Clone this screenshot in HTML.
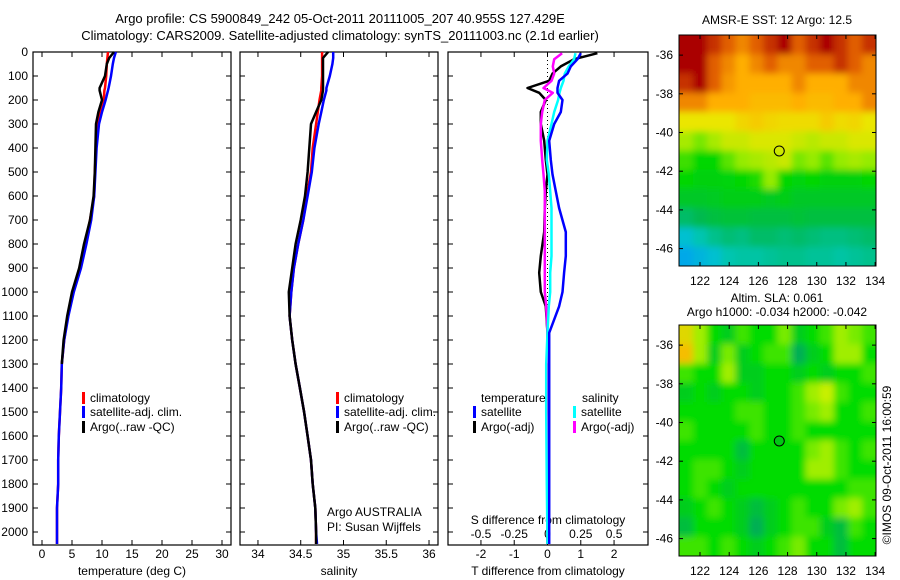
<!DOCTYPE html>
<html><head><meta charset="utf-8">
<style>
html,body{margin:0;padding:0;background:#fff;}
svg{display:block;font-family:"Liberation Sans",sans-serif;}
text{fill:#000;}
</style></head>
<body>
<svg id="fig" width="900" height="580" viewBox="0 0 900 580">
<defs>
<filter id="blur" x="-5%" y="-5%" width="110%" height="110%"><feGaussianBlur stdDeviation="3.5"/></filter>
<clipPath id="clip1"><rect x="679" y="35" width="197" height="231"/></clipPath>
<clipPath id="clip2"><rect x="679" y="325" width="197" height="231"/></clipPath>
</defs>
<text x="340" y="23" font-size="13" text-anchor="middle">Argo profile: CS 5900849_242 05-Oct-2011 20111005_207 40.955S 127.429E</text>
<text x="340" y="40" font-size="13" text-anchor="middle">Climatology: CARS2009. Satellite-adjusted climatology: synTS_20111003.nc (2.1d earlier)</text>
<text x="777" y="24" font-size="12" text-anchor="middle">AMSR-E SST: 12 Argo: 12.5</text>
<text x="777" y="302" font-size="12" text-anchor="middle">Altim. SLA: 0.061</text>
<text x="777" y="316" font-size="12" text-anchor="middle">Argo h1000: -0.034 h2000: -0.042</text>
<text x="0" y="0" font-size="12" text-anchor="middle" transform="translate(891,465) rotate(-90)">©IMOS 09-Oct-2011 16:00:59</text>
<g id="g"></g>
</svg>
<script>
// ---- profile data ----
const depthsP = [0,25,50,100,150,160,200,250,300,400,500,600,700,800,900,1000,1100,1200,1300,1400,1500,1600,1700,1800,1900,2000,2050];
const tempClim = [11,10.9,10.8,10.7,10.5,10.4,10.3,9.8,9.2,9.0,8.8,8.7,8.0,7.2,6.3,5.2,4.3,3.7,3.3,3.2,3.0,2.8,2.7,2.7,2.5,2.5,2.5];
const tempSat  = [12.3,12,11.8,11.5,11.1,11,10.6,10,9.5,9.1,8.9,8.7,8.2,7.4,6.5,5.3,4.4,3.7,3.3,3.2,3.0,2.8,2.7,2.7,2.5,2.5,2.5];
const tempArgo = [12,11.2,10.8,10.5,9.6,9.6,10,9.4,9.0,8.9,8.8,8.6,8.0,7.0,6.2,5.0,4.2,3.6,3.3,3.2,3.0,2.8,2.7,2.7,2.5,2.5,2.5];
const salClim = [34.75,34.75,34.75,34.75,34.74,34.74,34.72,34.7,34.68,34.64,34.62,34.57,34.53,34.47,34.42,34.39,34.37,34.4,34.44,34.49,34.54,34.58,34.62,34.64,34.67,34.68,34.68];
const salSat  = [34.88,34.88,34.87,34.84,34.8,34.8,34.77,34.74,34.71,34.66,34.63,34.58,34.53,34.47,34.42,34.39,34.37,34.4,34.44,34.49,34.54,34.58,34.62,34.64,34.67,34.68,34.69];
const salArgo = [34.82,34.76,34.76,34.76,34.76,34.76,34.74,34.68,34.62,34.6,34.58,34.55,34.5,34.44,34.4,34.36,34.37,34.4,34.44,34.49,34.54,34.58,34.62,34.64,34.67,34.68,34.68];
const depthsD = [5,30,60,90,120,150,170,200,250,300,370,450,510,580,650,750,850,920,1000,1060,1170,1300,1500,1800,2050];
const dTargo = [1.5,0.8,0.4,0.15,0.05,-0.6,-0.25,-0.05,-0.2,-0.2,-0.1,-0.05,0,-0.05,-0.08,-0.1,-0.2,-0.25,-0.2,-0.05,0,0,0,0,0];
const dTsat  = [1.0,0.9,0.7,0.6,0.35,0.3,0.3,0.45,0.4,0.2,0.05,0.1,0.15,0.25,0.35,0.55,0.55,0.5,0.45,0.35,0.05,0.05,0.05,0.05,0.05];
const dSargo = [0.11,0.05,0.04,0.05,0.03,-0.03,0.04,-0.02,-0.04,-0.05,-0.05,-0.04,-0.03,-0.02,-0.02,-0.02,-0.02,-0.02,-0.02,-0.01,0,0.01,0.01,0.01,0.01];
const dSsat  = [0.21,0.2,0.16,0.13,0.12,0.1,0.09,0.08,0.05,0.03,0,-0.005,0.01,0.02,0.03,0.03,0.03,0.02,0.02,0.01,0,-0.01,-0.01,-0.005,0];
const depthTicks = [0,100,200,300,400,500,600,700,800,900,1000,1100,1200,1300,1400,1500,1600,1700,1800,1900,2000];
const tempTicks = [0,5,10,15,20,25,30];
const salTicks = [34,34.5,35,35.5,36];
const tdiffTicks = [-2,-1,0,1,2];
const sdiffTicks = [-0.5,-0.25,0,0.25,0.5];
// ---- map data ----
const latTicks = [-36,-38,-40,-42,-44,-46];
const lonTicks = [122,124,126,128,130,132,134];
const argoLon = 127.43, argoLat = -40.955;
const sstGrid = [
[16,16,15.5,15,14.5,15,15.5,16,15,15.5,16,15.5,15,15.5],
[16,16,15,14.5,14,14.5,15,14.5,14.5,15,15,15.5,15,14.5],
[15.5,16,15,14.3,14,14,14,14,14.5,14,14,14,14.5,14.5],
[14.5,14.5,14,14,14,13.8,13.8,13.8,14,13.8,13.8,14,14,14.5],
[13,13,13,13,13.3,13.5,13.3,13.2,13.2,13.2,13.5,13.2,13.3,13],
[12.6,12.4,12.6,12.8,12.8,12.9,12.9,12.9,12.8,12.7,12.8,12.8,12.9,12.9],
[12.2,12,12,12.3,12.5,12.6,12.7,12.8,12.4,12.5,12.3,12.5,12.6,12.5],
[12,11.8,11.8,11.9,12,12.1,12.5,12,11.9,12,11.8,11.8,11.8,12],
[11.5,11.5,11.6,11.7,11.7,11.7,11.6,11.7,11.5,11.5,11.5,11.5,11.5,11.5],
[10.8,11,11.2,11.3,11.3,11.2,11.2,11.2,11.3,11.2,11.2,11.2,11.2,11.2],
[9.8,10.2,10.5,10.7,10.6,10.8,10.8,10.7,10.8,10.7,10.6,10.6,10.7,10.8],
[9.2,9.5,9.8,10.2,10.3,10.3,10.4,10.5,10.5,10.4,10.4,10.3,10.4,10.5]];
const slaGrid = [
[0.25,0.15,0,-0.05,0.05,0,0,0.1,-0.05,0,0.05,0.15,0.1,0.05],
[0.3,0.15,-0.05,0.1,-0.05,0,0.05,0.05,-0.15,-0.05,0,0.15,0.15,0],
[0.05,0,0,0.15,-0.05,-0.05,0,0,-0.05,0,-0.05,0,0,0.05],
[-0.05,0,-0.05,0,0,-0.05,0,0,0.05,0.15,0.2,0.05,0,0],
[0,0,0,0,0.05,0.05,0,0,0.05,0.1,0.15,0,0,0.05],
[0.05,0,0,0,0,0.05,0,0,0.05,0,0,0,0,0],
[0,0,0,0,-0.1,0,0,0,0,0.1,0.15,0.05,0,0.05],
[0,0.05,0.05,0,-0.05,0,0,0,0,0.15,0.15,0.05,0,0],
[0,0.05,0,-0.05,0,0,0,0,0,0,0,0,0.05,0.05],
[-0.05,0,0.05,0,-0.05,-0.1,-0.05,0,0.05,0,0,0.1,0.15,0.05],
[-0.1,0,0,0,-0.05,-0.15,-0.05,0,0.05,0.05,-0.05,-0.1,0.05,0],
[0.05,0.05,0,0.05,0,-0.05,0,0.05,0.1,0,0,-0.1,0,0]];

const NS="http://www.w3.org/2000/svg";
const G=document.getElementById('g');
function mk(tag,attrs,parent){const e=document.createElementNS(NS,tag);for(const k in attrs)e.setAttribute(k,attrs[k]);(parent||G).appendChild(e);return e;}
function txt(x,y,s,anchor,size,parent){const t=mk('text',{x:x,y:y,'font-size':size||12,'text-anchor':anchor||'middle'},parent);t.textContent=s;return t;}

const PT=52, PB=545;
const yD = d => PT + d*0.24;

function panel(name,x0,x1,xmin,xmax){
  const g=mk('g',{});
  
  
  const fx=v=>x0+(v-xmin)/(xmax-xmin)*(x1-x0);
  return {g,fx,x0,x1};
}
function frame(p){
  const r=mk('rect',{x:p.x0,y:PT,width:p.x1-p.x0,height:PB-PT,fill:'none',stroke:'#000','stroke-width':1.2},p.g);
  
  
  depthTicks.forEach(d=>{
    mk('line',{x1:p.x0,x2:p.x0+5,y1:yD(d),y2:yD(d),stroke:'#000'},p.g);
    mk('line',{x1:p.x1,x2:p.x1-5,y1:yD(d),y2:yD(d),stroke:'#000'},p.g);
  });
}
function xticks(p,ticks,label,lx){
  ticks.forEach(v=>{
    const x=p.fx(v);
    mk('line',{x1:x,x2:x,y1:PB,y2:PB-5,stroke:'#000'},p.g);
    mk('line',{x1:x,x2:x,y1:PT,y2:PT+5,stroke:'#000'},p.g);
    const t=txt(x,558,String(v),'middle',12,p.g);
    
    
  });
  const t=txt(lx,575,label,'middle',12,p.g);
  
  
}
function line(p,xs,ds,fxv,color,name){
  const pts=xs.map((v,i)=>fxv(v).toFixed(1)+','+yD(ds[i]).toFixed(1)).join(' ');
  const l=mk('polyline',{points:pts,fill:'none',stroke:color,'stroke-width':2.5,'stroke-linejoin':'round'},p.g);
  
  
}
function legend(p,x,y,color,label,name){
  mk('rect',{x:x,y:y-10,width:3,height:12,fill:color},p.g);
  const t=txt(x+8,y,label,'start',12,p.g);
  
  
}

depthTicks.forEach(d=>{
  const t=txt(28,yD(d)+4,String(d),'end',12);
  
  
});

// Panel 1 temperature
const p1=panel('temperature-panel',33,231,-1.5,31.5);
frame(p1);
xticks(p1,tempTicks,'temperature (deg C)',132);
line(p1,tempClim,depthsP,p1.fx,'#ff0000','temp-climatology-line');
line(p1,tempSat,depthsP,p1.fx,'#0000ff','temp-satellite-line');
line(p1,tempArgo.slice(0,19),depthsP.slice(0,19),p1.fx,'#000000','temp-argo-line');
legend(p1,82,402,'#ff0000','climatology','legend-climatology');
legend(p1,82,416,'#0000ff','satellite-adj. clim.','legend-satellite');
legend(p1,82,431,'#000000','Argo(..raw -QC)','legend-argo');

// Panel 2 salinity
const p2=panel('salinity-panel',240,438,33.79,36.105);
frame(p2);
xticks(p2,salTicks,'salinity',339);
line(p2,salClim,depthsP,p2.fx,'#ff0000','sal-climatology-line');
line(p2,salSat,depthsP,p2.fx,'#0000ff','sal-satellite-line');
line(p2,salArgo,depthsP,p2.fx,'#000000','sal-argo-line');
legend(p2,336,402,'#ff0000','climatology','legend-climatology');
legend(p2,336,416,'#0000ff','satellite-adj. clim.','legend-satellite');
legend(p2,336,431,'#000000','Argo(..raw -QC)','legend-argo');
let t1=txt(327,516,'Argo AUSTRALIA','start',12,p2.g);


let t2=txt(327,531,'PI: Susan Wijffels','start',12,p2.g);



// Panel 3 differences
const p3=panel('difference-panel',448,648,-2.99,3.02);
frame(p3);
xticks(p3,tdiffTicks,'T difference from climatology',548);
const fS=v=>p3.fx(v*4);
const z=mk('line',{x1:p3.fx(0),x2:p3.fx(0),y1:PT,y2:PB,stroke:'#000','stroke-dasharray':'1,3'},p3.g);


sdiffTicks.forEach(v=>{
  const t=txt(fS(v),538,String(v),'middle',12,p3.g);
  
  
});
let t3=txt(548,524,'S difference from climatology','middle',12,p3.g);


line(p3,dTargo,depthsD,p3.fx,'#000000','t-diff-argo-line');
line(p3,dSargo,depthsD,fS,'#ff00ff','s-diff-argo-line');
line(p3,dSsat,depthsD,fS,'#00ffff','s-diff-satellite-line');
line(p3,dTsat,depthsD,p3.fx,'#0000ff','t-diff-satellite-line');
let t4=txt(481,402,'temperature','start',12,p3.g);


let t5=txt(582,402,'salinity','start',12,p3.g);


legend(p3,473,416,'#0000ff','satellite','legend-t-satellite');
legend(p3,473,431,'#000000','Argo(-adj)','legend-t-argo');
legend(p3,573,416,'#00ffff','satellite','legend-s-satellite');
legend(p3,573,431,'#ff00ff','Argo(-adj)','legend-s-argo');

// ---- maps ----
function lerpColor(stops,v){
  if(v<=stops[0][0])return 'rgb('+stops[0][1].join(',')+')';
  for(let i=1;i<stops.length;i++){
    if(v<=stops[i][0]){
      const a=stops[i-1],b=stops[i],f=(v-a[0])/(b[0]-a[0]);
      const c=[0,1,2].map(k=>Math.round(a[1][k]+(b[1][k]-a[1][k])*f));
      return 'rgb('+c.join(',')+')';
    }
  }
  return 'rgb('+stops[stops.length-1][1].join(',')+')';
}
const sstStops=[[9,[0,160,240]],[10,[0,200,200]],[11,[0,185,80]],[12,[0,215,0]],[12.5,[150,235,0]],[13,[235,230,0]],[14,[255,175,0]],[15,[225,95,0]],[16,[170,0,0]]];
const slaStops=[[-0.2,[0,160,110]],[-0.1,[0,190,60]],[0,[0,220,0]],[0.1,[120,235,0]],[0.2,[200,240,0]],[0.3,[245,190,0]]];

function map(name,top,grid,stops,filled,clipId){
  const L=679,R=876,T=top,B=top+231;
  const lonMin=120.56,lonMax=134.06,latMax=-34.96,latMin=-46.9;
  const fx=v=>L+(v-lonMin)/(lonMax-lonMin)*(R-L);
  const fy=v=>T+(latMax-v)/(latMax-latMin)*(B-T);
  const g=mk('g',{});
  
  
  const clipG=mk('g',{'clip-path':'url(#'+clipId+')'},g);
  const cells=mk('g',{filter:'url(#blur)'},clipG);
  const rows=grid.length, cols=grid[0].length, cw=(R-L)/cols, ch=(B-T)/rows, ext=12;
  grid.forEach((row,i)=>row.forEach((v,j)=>{
    let x=L+j*cw, y=T+i*ch, w=cw+0.6, h=ch+0.6;
    if(j===0){x-=ext;w+=ext;}
    if(j===cols-1){w+=ext;}
    if(i===0){y-=ext;h+=ext;}
    if(i===rows-1){h+=ext;}
    const c=mk('rect',{x:x,y:y,width:w,height:h,fill:lerpColor(stops,v)},cells);
    
    
  }));
  const fr=mk('rect',{x:L,y:T,width:R-L,height:B-T,fill:'none',stroke:'#000','stroke-width':1},g);
  
  
  latTicks.forEach(v=>{
    mk('line',{x1:L,x2:L+4,y1:fy(v),y2:fy(v),stroke:'#000'},g);
    mk('line',{x1:R,x2:R-4,y1:fy(v),y2:fy(v),stroke:'#000'},g);
    const t=txt(673,fy(v)+4,String(v),'end',12,g);
    
    
  });
  lonTicks.forEach(v=>{
    mk('line',{x1:fx(v),x2:fx(v),y1:B,y2:B-4,stroke:'#000'},g);
    mk('line',{x1:fx(v),x2:fx(v),y1:T,y2:T+4,stroke:'#000'},g);
    const t=txt(fx(v),B+19,String(v),'middle',12,g);
    
    
  });
  const m=mk('circle',{cx:fx(argoLon),cy:fy(argoLat),r:5,fill:filled?'rgb(0,200,20)':'none',stroke:'#000','stroke-width':1},g);
  
  
}
map('sst-map',35,sstGrid,sstStops,false,'clip1');
map('sla-map',325,slaGrid,slaStops,true,'clip2');
</script>
</body></html>
